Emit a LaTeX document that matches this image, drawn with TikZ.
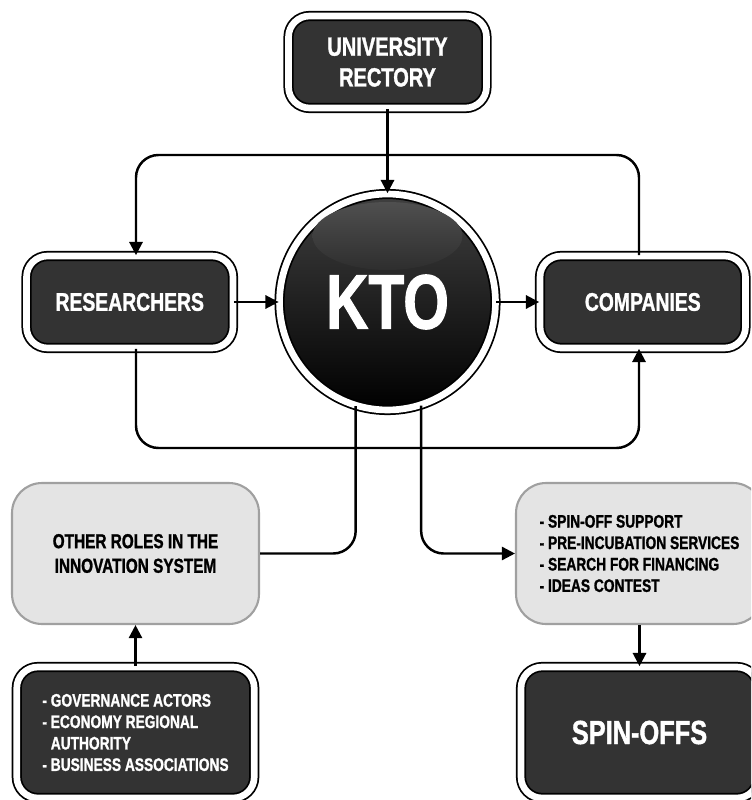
\documentclass[tikz,border=0pt]{standalone}
\usepackage{fontspec}
\setmainfont{Liberation Sans}[FakeStretch=0.76, BoldFeatures={FakeBold=1.2}]
\usepackage{tikz}
\usetikzlibrary{positioning, calc, arrows.meta}
\definecolor{boxdark}{HTML}{333333}
\definecolor{boxlight}{HTML}{E4E4E4}
\definecolor{boxedge}{HTML}{A0A0A0}
\definecolor{ktotop}{HTML}{404040}
\tikzset{
  darkbox/.style={draw=black, line width=1pt, double=white, double distance=3.8pt,
    fill=boxdark, rounded corners=0.42cm, text=white, align=center},
  lightbox/.style={draw=boxedge, line width=1.2pt, fill=boxlight, rounded corners=0.6cm,
    align=center, minimum width=4.94cm, minimum height=2.82cm},
  link/.style={line width=1.4pt, rounded corners=0.45cm},
  arr/.style={link, -{Triangle[length=7.5pt, width=7.5pt]}},
}

\begin{document}
\begin{tikzpicture}[x=0.02cm, y=-0.02cm]
    % Frame
    \clip (0,0) rectangle (751,800);

    % Top and middle row
    \node[darkbox, minimum width=3.96cm, minimum height=1.84cm,
      font=\bfseries\fontsize{15}{17.5}\selectfont] (rectory) at (387.5,62) {UNIVERSITY\\RECTORY};
    \node[circle, draw=black, line width=1pt, double=white, double distance=3.8pt,
      top color=ktotop, bottom color=black, minimum size=4.32cm, text=white,
      font=\bfseries\fontsize{44}{44}\selectfont] (kto) at (387.5,302) {KTO};
    \shade[top color=gray!62!black, bottom color=boxdark!90!black]
      ($(kto.center)+(0,-66)$) ellipse [x radius=1.5cm, y radius=0.68cm];
    \node[darkbox, minimum width=4.13cm, minimum height=1.84cm,
      font=\bfseries\fontsize{14.5}{17}\selectfont] (researchers) at (129.75,302) {RESEARCHERS};
    \node[darkbox, minimum width=4.11cm, minimum height=1.84cm,
      font=\bfseries\fontsize{14.5}{17}\selectfont] (companies) at (642.75,302) {COMPANIES};

    % Lower boxes
    \node[lightbox, font=\bfseries\fontsize{11.5}{14}\selectfont] (others) at (135.5,553.5)
      {OTHER ROLES IN THE\\INNOVATION SYSTEM};
    \node[lightbox, align=left, font=\bfseries\fontsize{10.3}{12.2}\selectfont] (support) at (639.5,553.5)
      {- SPIN-OFF SUPPORT\\- PRE-INCUBATION SERVICES\\- SEARCH FOR FINANCING\\- IDEAS CONTEST};
    \node[darkbox, minimum width=4.75cm, minimum height=2.62cm, align=left,
      font=\bfseries\fontsize{10.3}{12.2}\selectfont] (governance) at (135.5,732.5)
      {- GOVERNANCE ACTORS\\- ECONOMY REGIONAL\\\phantom{- }AUTHORITY\\- BUSINESS ASSOCIATIONS};
    \node[darkbox, minimum width=4.74cm, minimum height=2.62cm,
      font=\bfseries\fontsize{19}{20}\selectfont] (spinoffs) at (639.5,732.5) {SPIN-OFFS};

    % Loop corners
    \coordinate (loopTL) at (136,155);
    \coordinate (loopTR) at (639,155);
    \coordinate (loopBL) at (136,448);
    \coordinate (loopBR) at (639,448);

    % Links
    \draw[arr] (rectory) -- (kto);
    \draw[arr] (researchers) -- (kto);
    \draw[arr] (kto) -- (companies);
    \draw[arr] (companies.north -| loopTR) -- (loopTR) -- (loopTL) -- (researchers.north -| loopTL);
    \draw[arr] (researchers.south -| loopBL) -- (loopBL) -- (loopBR) -- (companies.south -| loopBR);
    \draw[link] (kto.-107.5) |- (others.east);
    \draw[arr] (kto.-72.5) |- (support.west);
    \draw[arr] (governance) -- (others);
    \draw[arr] (support) -- (spinoffs);
\end{tikzpicture}
\end{document}
